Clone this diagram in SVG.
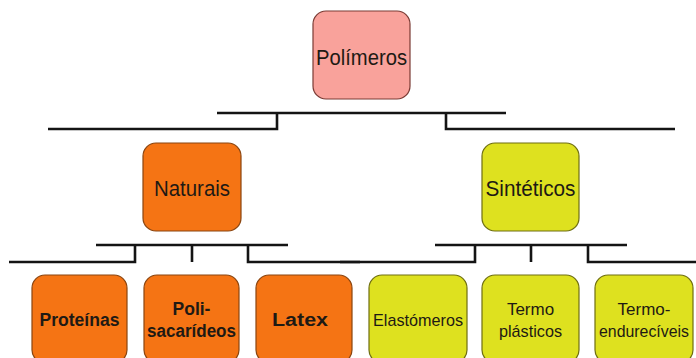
<svg xmlns="http://www.w3.org/2000/svg" width="696" height="358" viewBox="0 0 696 358">
<style>
.box{stroke-width:1.2}
.pink{fill:#F9A29B;stroke:#7a3b34}
.org{fill:#F57414;stroke:#8a4510}
.yel{fill:#DEE11F;stroke:#6e6e12}
.t{font-family:"Liberation Sans",Arial,sans-serif;fill:#1e1a14;text-anchor:middle}
.big{font-size:22px}
.b{font-size:17.5px;font-weight:bold}
.n{font-size:17px}
.ln{fill:none;stroke:#141414;stroke-width:2.6}
</style>
<rect width="696" height="358" fill="#fff"/>
<g id="connectors">
<path class="ln" d="M217 113H506M277 113V129H48M446 113V129H675"/>
<path class="ln" d="M96 245H288M135 245V262H9M192 245V262M248 245V262H360"/>
<path class="ln" d="M435 245H627M475 245V262H340M531 245V262M588 245V262H696"/>
</g>
<g id="polimeros"><rect class="box pink" x="313" y="11" width="97" height="88" rx="13"/><text class="t big" x="361.5" y="65" textLength="91" lengthAdjust="spacingAndGlyphs">Polímeros</text></g>
<g id="naturais"><rect class="box org" x="143" y="143" width="98" height="88" rx="13"/><text class="t big" x="192" y="196" textLength="76" lengthAdjust="spacingAndGlyphs">Naturais</text></g>
<g id="sinteticos"><rect class="box yel" x="482" y="143" width="97" height="88" rx="13"/><text class="t big" x="530.5" y="196" textLength="90" lengthAdjust="spacingAndGlyphs">Sintéticos</text></g>
<g id="proteinas"><rect class="box org" x="32" y="275" width="95" height="88" rx="13"/><text class="t b" x="79.5" y="326" textLength="80" lengthAdjust="spacingAndGlyphs">Proteínas</text></g>
<g id="polisacarideos"><rect class="box org" x="144" y="275" width="95" height="88" rx="13"/><text class="t b" x="191.5" y="315">Poli-</text><text class="t b" x="191.5" y="337" textLength="89" lengthAdjust="spacingAndGlyphs">sacarídeos</text></g>
<g id="latex"><rect class="box org" x="256" y="275" width="96" height="88" rx="13"/><text class="t b" x="300" y="326" textLength="56" lengthAdjust="spacingAndGlyphs">Latex</text></g>
<g id="elastomeros"><rect class="box yel" x="369" y="275" width="98" height="88" rx="13"/><text class="t n" x="418" y="326" textLength="90" lengthAdjust="spacingAndGlyphs">Elastómeros</text></g>
<g id="termoplasticos"><rect class="box yel" x="482" y="275" width="97" height="88" rx="13"/><text class="t n" x="530.5" y="315">Termo</text><text class="t n" x="530.5" y="337" textLength="63" lengthAdjust="spacingAndGlyphs">plásticos</text></g>
<g id="termoendureciveis"><rect class="box yel" x="595" y="275" width="98" height="88" rx="13"/><text class="t n" x="644" y="315">Termo-</text><text class="t n" x="644" y="337" textLength="90" lengthAdjust="spacingAndGlyphs">endurecíveis</text></g>
</svg>
